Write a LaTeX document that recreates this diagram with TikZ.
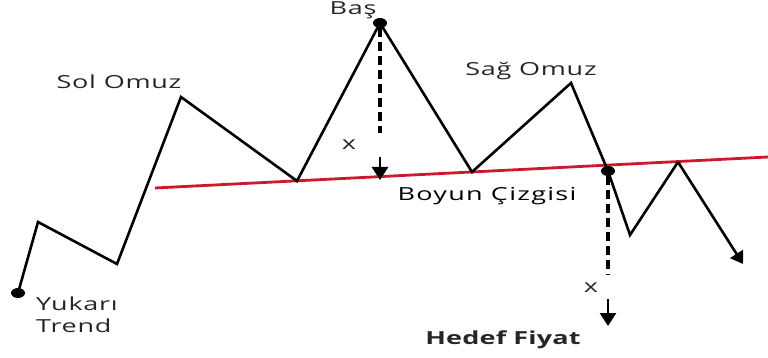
\documentclass[tikz,border=0pt]{standalone}
\usepackage{fontspec}
\setmainfont[FakeStretch=1.5,LetterSpace=4]{Open Sans}
\usetikzlibrary{arrows.meta,shapes.geometric}
\begin{document}
\begin{tikzpicture}[x=1pt,y=-1pt,
  price/.style={line width=2.6pt,black,line join=miter},
  neck/.style={line width=2.8pt,color=neckred},
  dashline/.style={line width=3.2pt,dash pattern=on 9pt off 5pt},
  tgtarrow/.style={line width=2.8pt,-{Triangle[length=13pt,width=16pt]}},
  lbl/.style={font=\fontsize{18}{20}\selectfont,text=black!85,inner sep=0pt},
  mlbl/.style={lbl,font=\fontsize{18}{20}\selectfont\addfontfeature{LetterSpace=7},text=black},
  blbl/.style={lbl,font=\fontsize{18}{20}\selectfont\bfseries\addfontfeature{LetterSpace=1}},
  dot/.style={fill=black,ellipse,inner sep=0pt,minimum width=14pt,minimum height=10pt}
]
\definecolor{neckred}{RGB}{205,25,45}
\useasboundingbox (0,0) rectangle (768,358);
% price path points
\coordinate (p0) at (18,293);
\coordinate (p1) at (38,222);
\coordinate (p2) at (117,264);
\coordinate (p3) at (181,97);
\coordinate (p4) at (297,181);
\coordinate (p5) at (380,23);
\coordinate (p6) at (472,172);
\coordinate (p7) at (571,83);
\coordinate (p8) at (608,171);
\coordinate (p9) at (630,235);
\coordinate (p10) at (678,162);
\coordinate (p11) at (743,264);
% neckline
\coordinate (n0) at (155,188);
\coordinate (n1) at (768,157);
\draw[neck] (n0) -- (n1);
\draw[price] (p0) -- (p1) -- (p2) -- (p3) -- (p4) -- (p5) -- (p6) -- (p7) -- (p8) -- (p9) -- (p10);
\draw[price,-{Triangle[length=12pt,width=15pt]}] (p10) -- (p11);
% dots
\node[dot] (d0) at (p0) {};
\node[dot] (d5) at (p5) {};
\node[dot] (d8) at (p8) {};
% measurement arrows
\coordinate (a1) at (380,133);
\coordinate (a2) at (380,157);
\coordinate (a3) at (380,180);
\draw[dashline] (d5) -- (a1);
\draw[tgtarrow] (a2) -- (a3);
\coordinate (b1) at (608,275);
\coordinate (b2) at (608,299);
\coordinate (b3) at (608,326);
\draw[dashline] (d8) -- (b1);
\draw[tgtarrow] (b2) -- (b3);
% labels
\node[lbl] (bas) at (353,10) {Baş};
\node[lbl] (sol) at (119,82) {Sol Omuz};
\node[lbl] (sag) at (531,71) {Sağ Omuz};
\node[mlbl] (boyun) at (487,196) {Boyun Çizgisi};
\node[blbl] (hedef) at (503,340) {Hedef Fiyat};
\node[lbl,anchor=west] (yuk) at (36,304) {Yukarı};
\node[lbl,anchor=west] (trend) at (36,326) {Trend};
\node[lbl] (x1) at (349,145) {x};
\node[lbl] (x2) at (591,288) {x};
\end{tikzpicture}
\end{document}
